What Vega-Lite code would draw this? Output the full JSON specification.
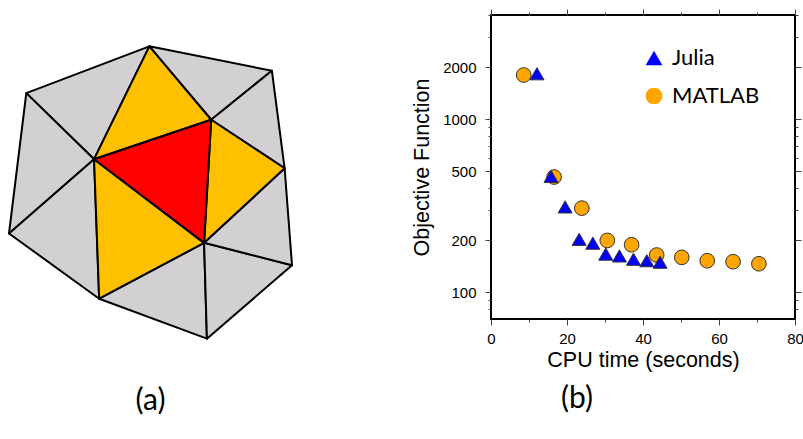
{
  "$schema": "https://vega.github.io/schema/vega-lite/v6.json",
  "background": "white",
  "padding": {"left": 8, "top": 7, "right": 0, "bottom": 0},
  "spacing": 199,
  "bounds": "flush",
  "config": {"view": {"stroke": null}, "font": "Liberation Sans"},
  "hconcat": [
    {
      "width": 283,
      "height": 355,
      "view": {"stroke": null},
      "title": {"text": "(a)", "orient": "bottom", "frame": "group", "anchor": "middle", "font": "Lato", "fontSize": 30, "fontWeight": "normal", "color": "black", "offset": 16},
      "data": {"values": [
        {"type": "Feature", "properties": {"kind": "outer"}, "geometry": {"type": "Polygon", "coordinates": [[[4.95,10.31],[0.61,8.66],[3.00,6.33],[4.95,10.31]]]}},
        {"type": "Feature", "properties": {"kind": "outer"}, "geometry": {"type": "Polygon", "coordinates": [[[4.95,10.31],[9.27,9.45],[7.13,7.72],[4.95,10.31]]]}},
        {"type": "Feature", "properties": {"kind": "outer"}, "geometry": {"type": "Polygon", "coordinates": [[[9.27,9.45],[9.72,6.01],[7.13,7.72],[9.27,9.45]]]}},
        {"type": "Feature", "properties": {"kind": "outer"}, "geometry": {"type": "Polygon", "coordinates": [[[0.61,8.66],[0,3.71],[3.00,6.33],[0.61,8.66]]]}},
        {"type": "Feature", "properties": {"kind": "outer"}, "geometry": {"type": "Polygon", "coordinates": [[[0,3.71],[3.18,1.41],[3.00,6.33],[0,3.71]]]}},
        {"type": "Feature", "properties": {"kind": "outer"}, "geometry": {"type": "Polygon", "coordinates": [[[3.18,1.41],[6.98,0],[6.88,3.38],[3.18,1.41]]]}},
        {"type": "Feature", "properties": {"kind": "outer"}, "geometry": {"type": "Polygon", "coordinates": [[[6.88,3.38],[6.98,0],[9.98,2.59],[6.88,3.38]]]}},
        {"type": "Feature", "properties": {"kind": "outer"}, "geometry": {"type": "Polygon", "coordinates": [[[6.88,3.38],[9.98,2.59],[9.72,6.01],[6.88,3.38]]]}},
        {"type": "Feature", "properties": {"kind": "neighbor"}, "geometry": {"type": "Polygon", "coordinates": [[[4.95,10.31],[3.00,6.33],[7.13,7.72],[4.95,10.31]]]}},
        {"type": "Feature", "properties": {"kind": "neighbor"}, "geometry": {"type": "Polygon", "coordinates": [[[7.13,7.72],[9.72,6.01],[6.88,3.38],[7.13,7.72]]]}},
        {"type": "Feature", "properties": {"kind": "neighbor"}, "geometry": {"type": "Polygon", "coordinates": [[[3.00,6.33],[6.88,3.38],[3.18,1.41],[3.00,6.33]]]}},
        {"type": "Feature", "properties": {"kind": "center"}, "geometry": {"type": "Polygon", "coordinates": [[[3.00,6.33],[7.13,7.72],[6.88,3.38],[3.00,6.33]]]}}
      ]},
      "projection": {"type": "identity", "reflectY": true},
      "mark": {"type": "geoshape", "stroke": "black", "strokeWidth": 2, "strokeJoin": "round"},
      "encoding": {
        "fill": {"field": "properties.kind", "type": "nominal", "scale": {"domain": ["outer", "neighbor", "center"], "range": ["#D2D0D2", "#FFC000", "#FF0000"]}, "legend": null}
      }
    },
    {
      "width": 304,
      "height": 304,
      "view": {"stroke": "black", "strokeWidth": 2},
      "title": {"text": "(b)", "orient": "bottom", "frame": "group", "anchor": "middle", "dx": -66, "font": "Lato", "fontSize": 30, "fontWeight": "normal", "color": "black", "offset": 13},
      "data": {"values": [
        {"lang": "MATLAB", "cpu": 8.6, "obj": 1800},
        {"lang": "MATLAB", "cpu": 16.6, "obj": 463},
        {"lang": "MATLAB", "cpu": 23.9, "obj": 306},
        {"lang": "MATLAB", "cpu": 30.6, "obj": 199},
        {"lang": "MATLAB", "cpu": 37.0, "obj": 188},
        {"lang": "MATLAB", "cpu": 43.6, "obj": 164},
        {"lang": "MATLAB", "cpu": 50.2, "obj": 159},
        {"lang": "MATLAB", "cpu": 56.9, "obj": 152},
        {"lang": "MATLAB", "cpu": 63.7, "obj": 150},
        {"lang": "MATLAB", "cpu": 70.5, "obj": 146},
        {"lang": "Julia", "cpu": 12.1, "obj": 1830},
        {"lang": "Julia", "cpu": 15.8, "obj": 467},
        {"lang": "Julia", "cpu": 19.5, "obj": 311},
        {"lang": "Julia", "cpu": 23.2, "obj": 202},
        {"lang": "Julia", "cpu": 26.8, "obj": 192},
        {"lang": "Julia", "cpu": 30.2, "obj": 166},
        {"lang": "Julia", "cpu": 33.8, "obj": 162},
        {"lang": "Julia", "cpu": 37.5, "obj": 155},
        {"lang": "Julia", "cpu": 41.0, "obj": 152},
        {"lang": "Julia", "cpu": 44.5, "obj": 149}
      ]},
      "resolve": {"axis": {"x": "independent", "y": "independent"}},
      "layer": [
        {
          "mark": {"type": "point", "filled": true, "opacity": 1, "stroke": "#333333", "strokeWidth": 1},
          "encoding": {
            "x": {"field": "cpu", "type": "quantitative", "scale": {"domain": [0, 80], "nice": false, "zero": false},
              "axis": {"orient": "bottom", "values": [0,10,20,30,40,50,60,70,80], "labelExpr": "datum.value % 20 === 0 ? datum.label : ''",
                "tickSize": {"condition": {"test": "datum.value % 20 === 0", "value": 6}, "value": 3},
                "domain": false, "grid": false, "tickColor": "#444444", "tickWidth": 1,
                "labelFont": "Liberation Sans", "labelFontSize": 15, "labelColor": "black", "labelPadding": 6, "labelFlush": false, "labelOverlap": false,
                "title": "CPU time (seconds)", "titleFont": "Liberation Sans", "titleFontSize": 21.5, "titleFontWeight": "normal", "titleColor": "black", "titlePadding": 3}},
            "y": {"field": "obj", "type": "quantitative", "scale": {"type": "log", "domain": [70, 4000], "nice": false},
              "axis": {"orient": "left", "values": [80,90,100,200,300,400,500,600,700,800,900,1000,2000,3000,4000], "format": "d",
                "labelExpr": "indexof([100,200,500,1000,2000], datum.value) >= 0 ? datum.label : ''",
                "tickSize": {"condition": {"test": "indexof([100,200,500,1000,2000], datum.value) >= 0", "value": 6}, "value": 3},
                "domain": false, "grid": false, "tickColor": "#444444", "tickWidth": 1,
                "labelFont": "Liberation Sans", "labelFontSize": 15, "labelColor": "black", "labelPadding": 9, "labelFlush": false, "labelOverlap": false,
                "title": "Objective Function", "titleFont": "Liberation Sans", "titleFontSize": 21.5, "titleFontWeight": "normal", "titleColor": "black", "titlePadding": 9}},
            "shape": {"field": "lang", "type": "nominal", "scale": {"domain": ["Julia", "MATLAB"], "range": ["triangle-up", "circle"]},
              "legend": {"title": null, "orient": "none", "legendX": 634, "legendY": 32, "padding": 0, "labelFont": "Lato", "labelFontSize": 22, "labelColor": "black", "labelOffset": 7, "rowPadding": 16, "symbolSize": 279, "symbolStrokeColor": "#333333", "symbolStrokeWidth": 1, "symbolOpacity": 1,
                "encoding": {"symbols": {"update": {"stroke": {"value": "#333333"}, "strokeWidth": {"value": 1}, "size": {"value": 279}}}}}},
            "color": {"field": "lang", "type": "nominal", "scale": {"domain": ["Julia", "MATLAB"], "range": ["#0000FF", "#FFA500"]},
              "legend": {"title": null, "orient": "none", "legendX": 634, "legendY": 32, "padding": 0, "labelFont": "Lato", "labelFontSize": 22, "labelColor": "black", "labelOffset": 7, "rowPadding": 16, "symbolSize": 279, "symbolStrokeColor": "#333333", "symbolStrokeWidth": 1, "symbolOpacity": 1,
                "encoding": {"symbols": {"update": {"stroke": {"value": "#333333"}, "strokeWidth": {"value": 1}, "size": {"value": 279}}}}}},
            "size": {"condition": {"test": "datum.lang === 'Julia'", "value": 196}, "value": 216}
          }
        },
        {
          "mark": {"type": "point", "opacity": 0},
          "encoding": {
            "x": {"field": "cpu", "type": "quantitative",
              "axis": {"orient": "top", "values": [0,10,20,30,40,50,60,70,80], "labels": false, "title": null, "domain": false, "grid": false,
                "tickSize": {"condition": {"test": "datum.value % 20 === 0", "value": 6}, "value": 3}, "tickColor": "#444444", "tickWidth": 1}},
            "y": {"field": "obj", "type": "quantitative",
              "axis": {"orient": "right", "values": [80,90,100,200,300,400,500,600,700,800,900,1000,2000,3000,4000], "labels": false, "title": null, "domain": false, "grid": false,
                "tickSize": {"condition": {"test": "indexof([100,200,500,1000,2000], datum.value) >= 0", "value": 6}, "value": 3}, "tickColor": "#444444", "tickWidth": 1}}
          }
        }
      ]
    }
  ]
}
